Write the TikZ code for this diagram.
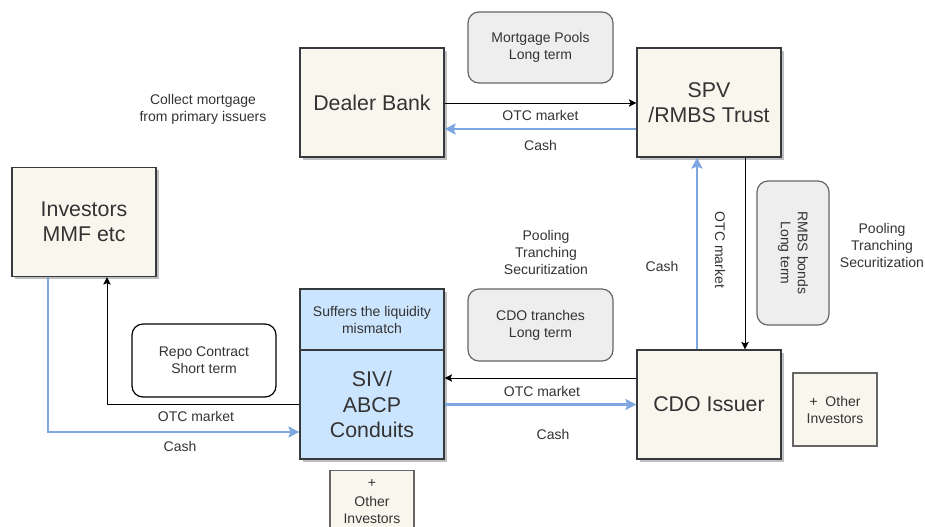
\documentclass[tikz,border=0pt]{standalone}
\usepackage{fontspec}
\setmainfont{Liberation Sans}
\usetikzlibrary{arrows.meta,shadows}
\def\u{0.75pt}
\definecolor{beige}{HTML}{F9F7ED}
\definecolor{edge}{HTML}{36393D}
\definecolor{softgray}{HTML}{EEEEEE}
\definecolor{grayedge}{HTML}{666666}
\definecolor{lightblue}{HTML}{CCE5FF}
\definecolor{cashblue}{HTML}{7EA6E0}
\definecolor{ink}{HTML}{333333}
\tikzset{
  bigtxt/.style={font=\fontsize{16}{19}\selectfont, text=ink, align=center},
  smalltxt/.style={font=\fontsize{10.5}{12.75}\selectfont, text=ink, align=center},
  boxshadow/.style={drop shadow={shadow xshift=2.2pt, shadow yshift=-2.2pt, fill=black, opacity=0.25}},
  party/.style={draw=edge, fill=beige, line width=0.9pt, bigtxt, boxshadow,
    minimum width=144*\u, minimum height=109*\u, inner sep=0pt},
  conduit/.style={draw=edge, fill=lightblue, line width=0.9pt, inner sep=0pt, minimum width=144*\u},
  note/.style={draw=grayedge, fill=softgray, line width=0.9pt, rounded corners=11*\u, smalltxt, inner sep=0pt},
  extra/.style={draw=grayedge, fill=beige, line width=0.9pt, smalltxt, inner sep=0pt,
    minimum width=84*\u, minimum height=73*\u},
  flow/.style={draw=black, line width=0.75pt, -{Stealth[length=7.5*\u, width=7.5*\u, inset=1.5*\u]}},
  cash/.style={draw=cashblue, line width=1.6pt, -{Stealth[length=11*\u, width=11*\u, inset=2*\u]}},
  lbl/.style={smalltxt, inner sep=0pt}
}
\begin{document}
\begin{tikzpicture}[x=\u, y=-\u]
\useasboundingbox (0,0) rectangle (925,526);
\clip (0,0) rectangle (925,526);

% main parties
\node[party] (dealer) at (372,102.5) {Dealer Bank};
\node[party] (spv) at (709,102.5) {SPV\\/RMBS Trust};
\node[party] (inv) at (84,222) {Investors\\MMF etc};
\node[party] (cdo) at (709,404.5) {CDO Issuer};

% SIV / ABCP conduit with its header
\node[conduit, boxshadow, minimum height=170*\u] (sivall) at (372,374) {};
\node[conduit, minimum height=61*\u, smalltxt] (sivtop) at (372,319.5) {Suffers the liquidity\\mismatch};
\node[conduit, minimum height=109*\u, bigtxt] (siv) at (372,404.5) {SIV/\\ABCP\\Conduits};

% instrument notes
\node[note, minimum width=145*\u, minimum height=71*\u] (pools) at (540.5,47.5) {Mortgage Pools\\Long term};
\node[note, minimum width=145*\u, minimum height=72*\u] (tranches) at (540.5,325) {CDO tranches\\Long term};
\node[note, minimum width=72*\u, minimum height=144*\u] (rmbs) at (793,253) {};
\node[smalltxt, rotate=-90] (rmbstxt) at (rmbs.center) {RMBS bonds\\Long term};
\node[draw=black, fill=white, line width=0.9pt, rounded corners=11*\u, smalltxt, inner sep=0pt,
  minimum width=144*\u, minimum height=73*\u] (repo) at (204,360.5) {Repo Contract\\Short term};

% other investors
\node[extra] (othcdo) at (835,409.5) {+\ \ Other\\Investors};
\node[extra, minimum height=73*\u, anchor=north] (othsiv) at (372,470) {};
\node[smalltxt, anchor=north] (othsivtxt) at (372,475) {+\\[1pt]Other\\Investors};

% free labels
\node[lbl] (collect) at (203,109.5) {Collect mortgage\\from primary issuers};
\node[lbl] (poolmid) at (546,252) {Pooling\\Tranching\\Securitization};
\node[lbl] (poolright) at (882,245) {Pooling\\Tranching\\Securitization};

% dealer bank <-> SPV
\draw[flow] ([yshift=-0.5*\u]dealer.east) -- ([yshift=-0.5*\u]spv.west)
  node[lbl, pos=0.5, yshift=-12*\u] (otc1) {OTC market};
\draw[cash] ([yshift=-26.5*\u]spv.west) -- ([yshift=-26.5*\u]dealer.east)
  node[lbl, pos=0.5, yshift=-16*\u] (cash1) {Cash};

% SPV <-> CDO issuer
\draw[flow] ([xshift=36*\u]spv.south) -- ([xshift=36*\u]cdo.north);
\node[lbl, rotate=-90] (otc2) at (720,250) {OTC market};
\draw[cash] ([xshift=-12*\u]cdo.north) -- ([xshift=-12*\u]spv.south);
\node[lbl] (cash2) at (662,266) {Cash};

% CDO issuer <-> SIV
\draw[flow] ([yshift=26.5*\u]cdo.west) -- ([yshift=26.5*\u]siv.east);
\node[lbl] (otc3) at (542,391) {OTC market};
\draw[cash] (siv.east) -- (cdo.west);
\node[lbl] (cash3) at (553,434) {Cash};

% SIV <-> investors
\draw[flow] (siv.west) -| ([xshift=23*\u]inv.south);
\node[lbl] (otc4) at (196,416) {OTC market};
\draw[cash] ([xshift=-36*\u]inv.south) |- ([yshift=-27.5*\u]siv.west);
\node[lbl] (cash4) at (180,446) {Cash};
\end{tikzpicture}
\end{document}
